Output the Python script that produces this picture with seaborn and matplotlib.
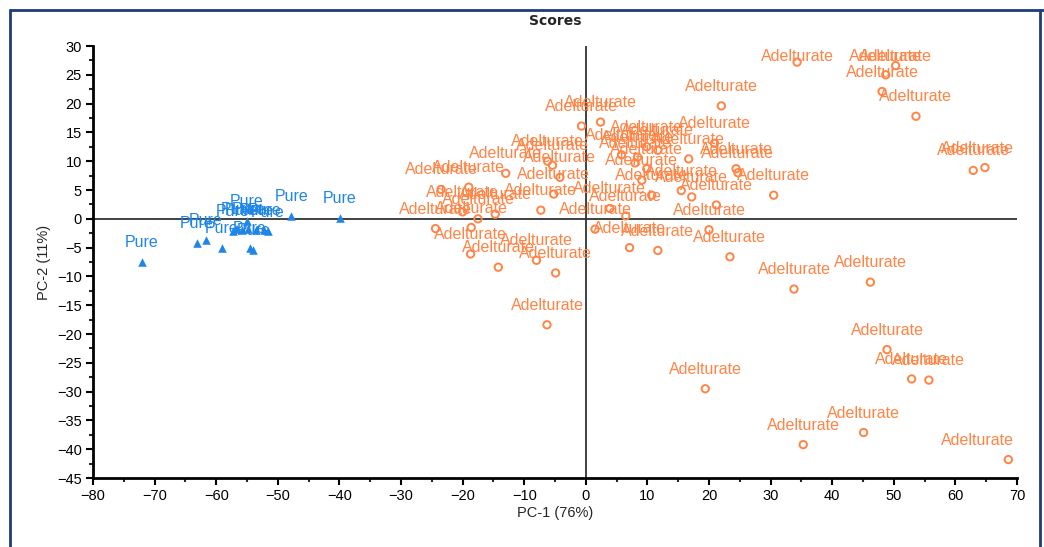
import matplotlib
matplotlib.use("Agg")
import matplotlib.pyplot as plt
from matplotlib.ticker import MultipleLocator
from matplotlib.lines import Line2D
import pandas as pd
import seaborn as sns

# PCA scores
pure_x = [-72.1, -63.1, -61.7, -59.1, -54.5, -54.0, -55.0, -57.3, -56.6, -55.8,
          -54.8, -53.5, -52.2, -51.6, -47.8, -39.9]
pure_y = [-7.5, -4.2, -3.7, -5.0, -5.1, -5.4, -0.4, -2.1, -1.8, -1.9,
          -1.7, -2.0, -2.0, -2.2, 0.5, 0.1]

adel_x = [34.3, 50.3, 48.7, 48.1, 53.6, 62.9, 64.8, 30.5, 22.0,
          11.7, 23.4, 33.8, 46.2, 48.9, 52.9, 55.7, 19.4, 45.1, 35.3, 68.6,
          -6.3, -0.7, 2.4,
          -13.0, -5.4, -6.2, -4.2, -23.5, -19.0, -5.2, -7.3, -14.7, -20.0,
          -17.5, -24.4, -18.6, -18.7, -14.2, -8.0, -4.9,
          1.5, 7.1, 20.0, 3.9, 6.5, 10.7, 17.2, 21.2, 15.5, 16.7,
          9.9, 9.1, 8.0, 24.4, 24.7, 20.9, 9.9, 5.8, 8.4, 11.7]
adel_y = [27.2, 26.6, 25.0, 22.1, 17.8, 8.4, 8.9, 4.1, 19.6,
          -5.5, -6.6, -12.2, -11.0, -22.7, -27.8, -28.0, -29.5, -37.1, -39.2, -41.8,
          -18.4, 16.1, 16.8,
          7.9, 9.3, 10.0, 7.2, 5.1, 5.5, 4.3, 1.5, 0.8, 1.2,
          0.0, -1.7, -1.5, -6.1, -8.4, -7.2, -9.4,
          -1.8, -5.0, -1.9, 1.8, 0.5, 4.1, 3.8, 2.4, 4.9, 10.4,
          8.7, 6.7, 9.7, 8.7, 8.0, 13.1, 12.5, 11.1, 10.7, 11.9]

pure = pd.DataFrame({"PC1": pure_x, "PC2": pure_y, "Sample": "Pure"})
adel = pd.DataFrame({"PC1": adel_x, "PC2": adel_y, "Sample": "Adelturate"})

orange = "#FF8445"
blue = "#1F86E8"

sns.set_theme(style="ticks")
plt.rcParams["font.family"] = ["Liberation Sans", "DejaVu Sans"]

fig = plt.figure(figsize=(10.44, 5.47), dpi=100)
ax = fig.add_axes([0.0891, 0.1261, 0.8850, 0.7898])

ax.axhline(0, color="#333333", lw=1.3, zorder=1)
ax.axvline(0, color="#333333", lw=1.3, zorder=1)

sns.scatterplot(data=adel, x="PC1", y="PC2", marker="o", s=28,
                facecolor="none", edgecolor=orange, linewidth=1.4, ax=ax, zorder=3)
sns.scatterplot(data=pure, x="PC1", y="PC2", marker="^", s=38,
                color=blue, edgecolor=blue, linewidth=0, ax=ax, zorder=3)

texts = []
for df, col in [(adel, orange), (pure, blue)]:
    for _, row in df.iterrows():
        t = ax.annotate(row["Sample"], (row["PC1"], row["PC2"]),
                        xytext=(0, 14), textcoords="offset points",
                        ha="center", va="center", color=col, fontsize=11.5, zorder=4)
        texts.append(t)

ax.set_xlim(-80, 70)
ax.set_ylim(-45, 30)
ax.xaxis.set_major_locator(MultipleLocator(10))
ax.xaxis.set_minor_locator(MultipleLocator(5))
ax.yaxis.set_major_locator(MultipleLocator(5))
ax.yaxis.set_minor_locator(MultipleLocator(2.5))
ax.tick_params(which="major", length=5, width=1.5, labelsize=10.5, colors="black", pad=3)
ax.tick_params(which="minor", length=3, width=1.5)

sns.despine(ax=ax)
for s in ["left", "bottom"]:
    ax.spines[s].set_linewidth(2)
    ax.spines[s].set_color("black")

ax.set_xlabel("PC-1 (76%)", fontsize=10.5, labelpad=2)
ax.set_ylabel("PC-2 (11%)", fontsize=10.5, labelpad=4)
ax.set_title("Scores", fontsize=10, fontweight="bold", family="DejaVu Sans", pad=15)

# keep point labels inside the plot area, like the original software does
fig.canvas.draw()
r = fig.canvas.get_renderer()
ab = ax.get_window_extent(r)
k = 72.0 / fig.dpi
for t in texts:
    bb = t.get_window_extent(r)
    dx = min(0, ab.x1 - 3 - bb.x1)
    dy = min(0, ab.y1 - 3 - bb.y1)
    if dx or dy:
        ox, oy = t.xyann
        t.xyann = (ox + dx * k, oy + dy * k)

# outer frame of the exported chart
navy = "#1E3C78"
fig.add_artist(Line2D([10 / 1044, 10 / 1044], [0, 1 - 10 / 547], color=navy, lw=2,
                      transform=fig.transFigure))
fig.add_artist(Line2D([10 / 1044, 1], [1 - 10 / 547, 1 - 10 / 547], color=navy, lw=2,
                      transform=fig.transFigure))
fig.add_artist(Line2D([1040 / 1044, 1040 / 1044], [0, 1 - 10 / 547], color=navy, lw=2,
                      transform=fig.transFigure))

fig.savefig("out.png", dpi=100)
